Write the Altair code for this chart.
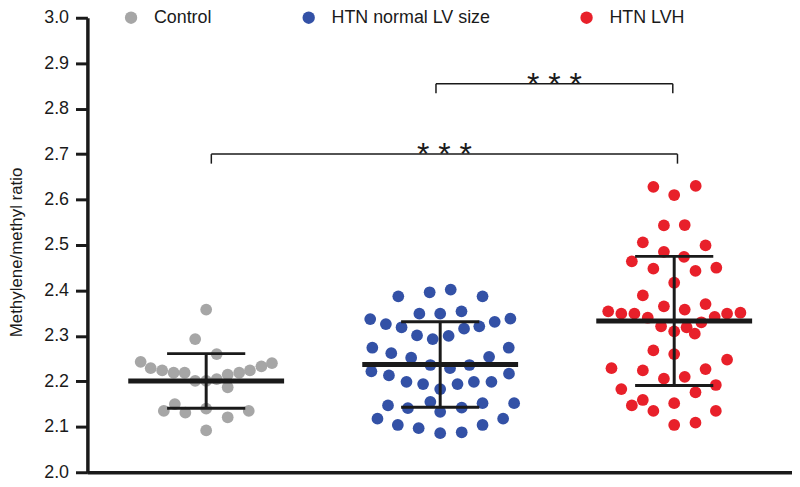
import altair as alt
import pandas as pd

groups = ["Control", "HTN normal LV size", "HTN LVH"]
colors = ["#a6a6a6", "#3351a6", "#e8202a"]

# Control: y values and horizontal (beeswarm) offsets in group units
control_y = [2.358, 2.293, 2.260, 2.243, 2.229, 2.224, 2.219, 2.219, 2.201, 2.201,
             2.205, 2.215, 2.219, 2.224, 2.233, 2.240, 2.187, 2.135, 2.150, 2.131,
             2.140, 2.121, 2.135, 2.092]
control_dx = [0.0, -0.047, 0.045, -0.280, -0.237, -0.188, -0.139, -0.092, -0.047, 0.0,
              0.045, 0.092, 0.141, 0.187, 0.236, 0.281, 0.092, -0.181, -0.134, -0.089,
              0.0, 0.092, 0.182, 0.0]

normal_y = [2.387, 2.396, 2.402, 2.387, 2.349, 2.349, 2.354, 2.337, 2.326, 2.319,
            2.331, 2.338, 2.316, 2.321, 2.301, 2.293, 2.300, 2.274, 2.262, 2.274,
            2.252, 2.254, 2.236, 2.229, 2.236, 2.222, 2.213, 2.199, 2.194, 2.183,
            2.194, 2.199, 2.199, 2.217, 2.147, 2.141, 2.155, 2.133, 2.142, 2.152,
            2.152, 2.118, 2.104, 2.097, 2.086, 2.088, 2.104, 2.118]
normal_dx = [-0.179, -0.045, 0.045, 0.181, -0.089, 0.0, 0.091, -0.299, -0.232, -0.165,
             0.233, 0.300, 0.102, 0.167, -0.099, -0.032, 0.036, -0.290, -0.209, 0.293,
             -0.124, 0.209, -0.042, 0.042, 0.125, -0.294, -0.219, -0.144, -0.073, 0.0,
             0.074, 0.144, 0.219, 0.294, -0.223, -0.138, -0.042, 0.0, 0.092, 0.181,
             0.316, -0.268, -0.181, -0.092, 0.0, 0.092, 0.181, 0.269]

lvh_y = [2.628, 2.610, 2.630, 2.543, 2.544, 2.506, 2.499, 2.485, 2.474, 2.464,
         2.448, 2.443, 2.450, 2.417, 2.389, 2.365, 2.358, 2.370, 2.354, 2.349,
         2.349, 2.340, 2.342, 2.349, 2.351, 2.321, 2.310, 2.319, 2.305, 2.330,
         2.268, 2.260, 2.248, 2.229, 2.224, 2.227, 2.206, 2.210, 2.183, 2.192,
         2.176, 2.147, 2.159, 2.135, 2.152, 2.135, 2.104, 2.109]
lvh_dx = [-0.089, 0.0, 0.092, -0.044, 0.045, -0.134, 0.134, -0.044, 0.042, -0.181,
          -0.089, 0.091, 0.180, 0.0, -0.134, -0.044, 0.045, 0.134, -0.282, -0.226,
          -0.170, -0.113, 0.173, 0.226, 0.283, -0.056, 0.0, 0.053, 0.088, 0.116,
          -0.089, 0.0, 0.226, -0.268, -0.134, 0.134, -0.044, 0.045, -0.226, 0.178,
          0.091, -0.181, -0.134, -0.089, 0.0, 0.178, 0.0, 0.091]

means = [2.201, 2.237, 2.333]
sds = [0.060, 0.094, 0.142]

# significance brackets
br_x1 = [1.022, 1.982]
br_x2 = [3.014, 2.994]
br_y = [2.700, 2.855]
br_label = ["* * *", "* * *"]

MEAN_HALF = 0.333
CAP_HALF = 0.167
DROP = 0.021

rows = []
for gi, (ys, dxs) in enumerate([(control_y, control_dx), (normal_y, normal_dx), (lvh_y, lvh_dx)]):
    for yv, dx in zip(ys, dxs):
        rows.append({"group": groups[gi], "x": gi + 1 + dx, "y": yv})
pts = pd.DataFrame(rows)

summ = pd.DataFrame({
    "group": groups,
    "x": [1, 2, 3],
    "mean": means,
    "lo": [m - s for m, s in zip(means, sds)],
    "hi": [m + s for m, s in zip(means, sds)],
})
summ["xl"] = summ["x"] - MEAN_HALF
summ["xr"] = summ["x"] + MEAN_HALF
summ["cl"] = summ["x"] - CAP_HALF
summ["cr"] = summ["x"] + CAP_HALF

br = pd.DataFrame({"x1": br_x1, "x2": br_x2, "y": br_y, "label": br_label})
br["ylo"] = br["y"] - DROP
br["xm"] = (br["x1"] + br["x2"]) / 2

INK = "#1a1a1a"
FONT = "Liberation Sans"

xscale = alt.Scale(domain=[0.4924, 3.5034], nice=False, zero=False)
yscale = alt.Scale(domain=[2.0, 3.0], nice=False, zero=False)
xaxis = alt.Axis(title=None, labels=False, ticks=False, grid=False,
                 domainWidth=3.5, domainColor=INK)
yaxis = alt.Axis(title="Methylene/methyl ratio", values=[2.0, 2.1, 2.2, 2.3, 2.4, 2.5, 2.6, 2.7, 2.8, 2.9, 3.0],
                 format=".1f", labelFontSize=18, labelFont=FONT, labelColor=INK,
                 labelFlush=False, labelOverlap=False, labelPadding=7,
                 tickSize=12, tickWidth=3, tickColor=INK,
                 domainWidth=3.5, domainColor=INK, grid=False,
                 titleFontSize=17, titleFont=FONT, titleFontWeight="normal", titleColor=INK,
                 titleX=-66, titleY=236, titleBaseline="alphabetic", titleAlign="center")


def X(f):
    return alt.X(f"{f}:Q", scale=xscale, axis=xaxis)


def Y(f):
    return alt.Y(f"{f}:Q", scale=yscale, axis=yaxis)


points = alt.Chart(pts).mark_circle(size=140, opacity=1).encode(
    x=X("x"), y=Y("y"),
    color=alt.Color("group:N", scale=alt.Scale(domain=groups, range=colors),
                    legend=alt.Legend(title=None, orient="none", legendX=35, legendY=-9,
                                      direction="horizontal", columns=3, symbolType="circle",
                                      symbolSize=155, labelFontSize=18, labelFont=FONT,
                                      labelColor=INK, labelOffset=14, columnPadding=88,
                                      padding=0, symbolOpacity=1, symbolStrokeWidth=0)),
)

mean_line = alt.Chart(summ).mark_rule(strokeWidth=5, color=INK).encode(
    x=X("xl"), x2="xr", y=Y("mean"))
sd_line = alt.Chart(summ).mark_rule(strokeWidth=3, color=INK).encode(
    x=X("x"), y=Y("lo"), y2="hi")
cap_hi = alt.Chart(summ).mark_rule(strokeWidth=3, color=INK).encode(
    x=X("cl"), x2="cr", y=Y("hi"))
cap_lo = alt.Chart(summ).mark_rule(strokeWidth=3, color=INK).encode(
    x=X("cl"), x2="cr", y=Y("lo"))

br_h = alt.Chart(br).mark_rule(strokeWidth=1.5, color=INK).encode(
    x=X("x1"), x2="x2", y=Y("y"))
br_l = alt.Chart(br).mark_rule(strokeWidth=1.5, color=INK).encode(
    x=X("x1"), y=Y("ylo"), y2="y")
br_r = alt.Chart(br).mark_rule(strokeWidth=1.5, color=INK).encode(
    x=X("x2"), y=Y("ylo"), y2="y")
stars = alt.Chart(br).mark_text(fontSize=32, font=FONT, dy=11, baseline="alphabetic",
                                align="center", color=INK).encode(
    x=X("xm"), y=Y("y"), text="label:N")

chart = alt.layer(points, mean_line, sd_line, cap_hi, cap_lo, br_h, br_l, br_r, stars).properties(
    width=710, height=458,
    autosize=alt.AutoSizeParams(type="none"),
    padding={"left": 80, "top": 8, "right": 0, "bottom": 9},
    background="white",
).configure_view(stroke=None)

chart.save("out.html", embed_options={"renderer": "svg", "actions": False})
